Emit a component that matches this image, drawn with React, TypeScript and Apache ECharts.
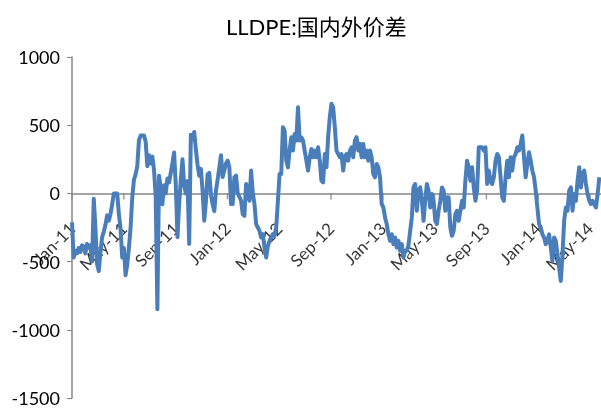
import React, { useEffect, useRef } from "react";
import * as echarts from "echarts";

const title = "LLDPE:国内外价差";
const tickLabels = ["Jan-11", "May-11", "Sep-11", "Jan-12", "May-12", "Sep-12", "Jan-13", "May-13", "Sep-13", "Jan-14", "May-14"];
const tickMonths = [0, 4, 8, 12, 16, 20, 24, 28, 32, 36, 40];
const spanMonths = 40.72; // first to last observation, months from Jan-11

const values2011 = [
  -213, -470, -420, -440, -400, -430, -380, -390, -440, -370, -400, -380, -500, -40, -250, -520, -570, -430, -320, -280,
  -230, -160, -200, -150, -80, 0, 0, 0, -150, -260,
  -470, -400, -600, -520, -400, -250, -30, 100, 140, 200, 390, 424, 424, 424, 380, 200, 280, 220, 270, 170,
  -20, -850, 130, 40, -80, 60, 0, 110, 80, 150, 220,
  300, 60, -320, -80, 100, 250, 60, 0, 90, -370, 430, 400, 450, 320, 210, 130, 180, 20, -200, -60,
  140, 150, -10, -80, -130, 20, 100, 190, 280, 120, 170, 220,
];

const values2012 = [
  240, 190, -78, -78, 118, 130, 0, -25, -54, -152, -164, 69, 44, -54, 167, 0, -78, -225, -250, -275,
  -323, -299, -397, -470, -386, -348, -323, -299, -311, -250, -54, 142, 142, 485, 460, 240, 191, 314, 412, 314,
  436, 387, 632, 387, 412, 387, 314, 240, 167, 265, 326, 265, 314, 265, 338, 240, 93, 81, 289, 191,
  412, 559, 657, 632, 485, 314, 289, 265, 289, 167, 265, 289, 240, 314, 338, 265, 387, 412, 314, 363,
  265, 363, 265, 314, 240, 314, 265, 142, 118, 216, 191, 118, -78, -103, -176, -225, -299, -348, -299, -372,
  -323, -397, -348, -421, -372, -470, -421, -420, -380,
];

const values2013 = [
  -275, -176, 44, 69, -127, 20, 44, -54, -201, -54, 69, 20, -103, -5, -54, -201, -225, -127, -54, 44,
  20, -127, -29, -29, -250, -311, -275, -152, -127, -201, -127, -54, -103, 93, 240, 191, 93, 191, 44, -54,
  20, 338, 338, 338, 314, 338, 69, 167, 93, 69, 118, 240, 289, 265, 118, -29, -54, 118, 240, 118,
  265, 167, 265, 289, 338, 314, 363, 424, 265, 118, 216, 301, 240, 167, 118, 20, -103, -225, -250, -300,
  -323, -372, -348, -300, -397, -495, -323, -348, -446, -544, -642, -446, -201, -103, -127, 20, 44, -127, -5, -54,
  93, 191, 44, 142, 167, 69, -5, -54, -78, -54, -81, -103, -5, 118,
];

const values = [...values2011, ...values2012, ...values2013];

export default function App() {
  const ref = useRef<HTMLDivElement>(null);
  useEffect(() => {
    if (!ref.current) return;
    const chart = echarts.init(ref.current, undefined, { renderer: "svg" });
    const step = spanMonths / (values.length - 1);
    const font = 'Lato, "Noto Sans CJK SC", sans-serif';
    // label offset is expressed in the rotated (45deg) frame: move straight down on screen
    const drop = 29;
    const k = drop / Math.SQRT2;
    chart.setOption({
      animation: false,
      title: {
        text: title,
        left: 221,
        top: 10,
        textStyle: { fontFamily: font, fontSize: 22, fontWeight: "normal", color: "#000" },
      },
      grid: { left: 72, right: 0, top: 57, bottom: 12, containLabel: false, outerBoundsMode: "none" },
      xAxis: {
        type: "value",
        min: 0,
        max: 40.85,
        interval: 4,
        axisLine: { onZero: true, lineStyle: { color: "#868686", width: 1.5 } },
        axisTick: { show: false },
        splitLine: { show: false },
        axisLabel: { show: false },
      },
      yAxis: {
        type: "value",
        min: -1500,
        max: 1000,
        interval: 500,
        axisLine: { show: true, lineStyle: { color: "#868686", width: 1.5 } },
        axisTick: { show: true, length: 5, lineStyle: { color: "#868686" } },
        splitLine: { show: false },
        axisLabel: { fontFamily: font, fontSize: 18, color: "#000", margin: 12, formatter: (v: number) => String(v) },
      },
      series: [
        {
          type: "line",
          data: values.map((v, i) => [i * step, v]),
          showSymbol: false,
          lineStyle: { color: "#4a7ebb", width: 4, join: "round" },
          itemStyle: { color: "#4a7ebb" },
          z: 3,
        },
        {
          type: "scatter",
          data: tickMonths.map((m) => [m, 0]),
          symbol: "rect",
          symbolSize: [1.5, 6],
          symbolOffset: [0, 3],
          itemStyle: { color: "#868686" },
          silent: true,
          z: 2,
          label: {
            show: true,
            position: "inside",
            align: "right",
            verticalAlign: "middle",
            rotate: 45,
            offset: [-k, k],
            fontFamily: font,
            fontSize: 17,
            color: "#000",
            formatter: (p: any) => tickLabels[p.dataIndex],
          },
        },
      ],
    });
    return () => chart.dispose();
  }, []);
  return <div ref={ref} style={{ position: "fixed", left: 0, top: 0, width: 601, height: 410 }} />;
}
